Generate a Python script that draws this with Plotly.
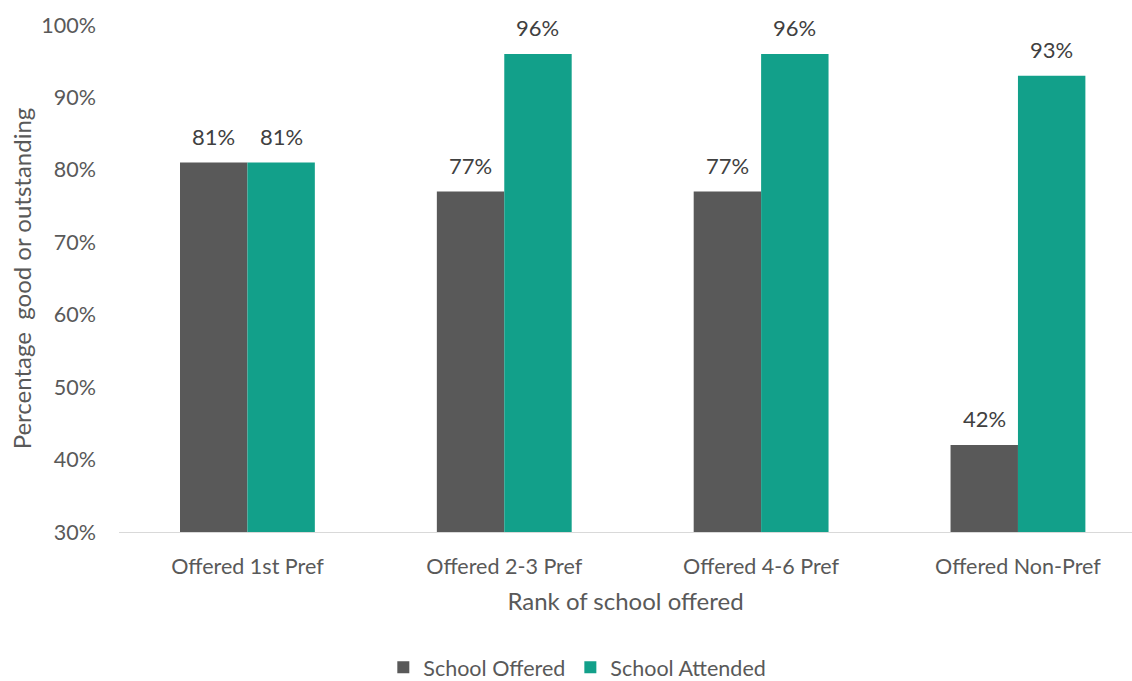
import plotly.graph_objects as go

categories = ["Offered 1st Pref", "Offered 2-3 Pref", "Offered 4-6 Pref", "Offered Non-Pref"]
school_offered = [81, 77, 77, 42]
school_attended = [81, 96, 96, 93]
y_ticks = [30, 40, 50, 60, 70, 80, 90, 100]

FONT = "Lato, 'Open Sans', sans-serif"
GREY = "#595959"
TEAL = "#12A08A"

fig = go.Figure()
fig.add_trace(go.Bar(name="School Offered", x=categories, y=school_offered,
                     marker=dict(color=GREY, line=dict(width=0))))
fig.add_trace(go.Bar(name="School Attended", x=categories, y=school_attended,
                     marker=dict(color=TEAL, line=dict(width=0))))

# value labels above each bar
half = 33.7
for series, shift in ((school_offered, -half), (school_attended, half)):
    for cat, v in zip(categories, series):
        fig.add_annotation(x=cat, y=v, text=f"{v}%", xref="x", yref="y",
                           showarrow=False, xshift=shift, yshift=11,
                           yanchor="bottom",
                           font=dict(family=FONT, size=22, color="#404040"))

fig.update_layout(
    width=1132, height=681,
    margin=dict(l=119, r=0, t=25, b=149),
    plot_bgcolor="white", paper_bgcolor="white",
    barmode="group", bargap=0.475, bargroupgap=0,
    font=dict(family=FONT, size=21, color=GREY),
    showlegend=True,
    legend=dict(orientation="h", xref="container", yref="container",
                x=0.51, y=0.02, xanchor="center", yanchor="middle",
                font=dict(family=FONT, size=21.5, color=GREY),
                itemwidth=30, tracegroupgap=0),
)
fig.update_xaxes(range=[-0.5, 3.444], showline=True, linecolor="#D9D9D9", linewidth=1,
                 ticks="", showgrid=False, ticklabelstandoff=15,
                 tickfont=dict(family=FONT, size=21.5, color=GREY),
                 title=dict(text="Rank of school offered", standoff=15,
                            font=dict(family=FONT, size=24, color=GREY)))
fig.update_yaxes(range=[30, 100], tickvals=y_ticks,
                 ticktext=[f"{t}%" for t in y_ticks],
                 showgrid=False, zeroline=False, showline=False, ticks="",
                 ticklabelstandoff=22,
                 tickfont=dict(family=FONT, size=21.5, color=GREY),
                 title=dict(text="Percentage\u00a0 good or outstanding", standoff=2,
                            font=dict(family=FONT, size=24, color=GREY)))

fig.write_html("out.html")
